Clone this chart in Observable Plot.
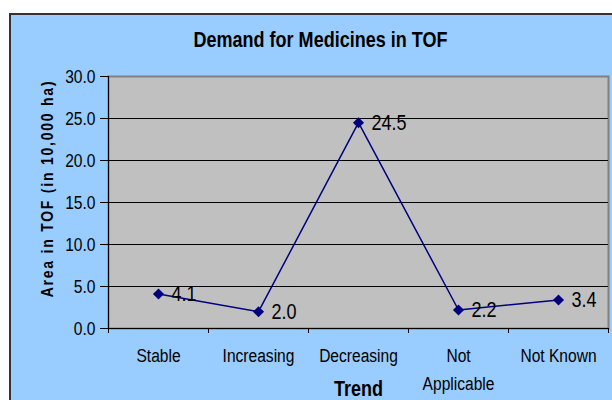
<!DOCTYPE html>
<html>
<head>
<meta charset="utf-8">
<script src="https://cdn.jsdelivr.net/npm/d3@7"></script>
<script src="https://cdn.jsdelivr.net/npm/@observablehq/plot@0.6"></script>
<style>
  html, body { margin: 0; padding: 0; background: #ffffff; }
  #wrap { position: relative; width: 612px; height: 400px; overflow: hidden; }
  #bg { position: absolute; left: 9px; top: 13px; width: 603px; height: 387px;
        background: #99CCFF; border-left: 2px solid #333; border-top: 2px solid #333; box-sizing: border-box; }
  #chart { position: absolute; left: 0; top: 0; }
  .ytitle text { letter-spacing: 2.2px; }
</style>
</head>
<body>
<div id="wrap"><div id="bg"></div><div id="chart"></div></div>
<script>
const title = "Demand for Medicines in TOF";
const yTitle = "Area in TOF (in 10,000 ha)";
const xTitle = "Trend";
const categories = ["Stable", "Increasing", "Decreasing", "Not\nApplicable", "Not Known"];
const values = [4.1, 2.0, 24.5, 2.2, 3.4];
const yTicks = [0, 5, 10, 15, 20, 25, 30];

const data = categories.map((c, i) => ({cat: c, pos: i + 0.5, value: values[i]}));
const bandEdges = d3.range(0, categories.length + 1);

const chart = Plot.plot({
  width: 612,
  height: 400,
  marginLeft: 108,
  marginRight: 4,
  marginTop: 76,
  marginBottom: 72,
  style: {background: "transparent", fontFamily: "'Liberation Sans', Arial, sans-serif", color: "black"},
  x: {domain: [0, categories.length], axis: null},
  y: {domain: [0, 30], axis: null},
  marks: [
    Plot.frame({fill: "#C0C0C0", stroke: "#808080", strokeWidth: 2}),
    Plot.ruleY(yTicks.filter(t => t > 0 && t < 30), {stroke: "black", strokeWidth: 1}),
    Plot.ruleX([0], {stroke: "black"}),
    Plot.ruleY([0], {stroke: "black"}),
    Plot.axisY({ticks: yTicks, tickSize: 8, tickPadding: 5, tickFormat: d => d.toFixed(1), fontSize: 19, label: null}),
    Plot.axisX({ticks: bandEdges, tickSize: 5, tickFormat: () => "", label: null}),
    Plot.text(data, {x: "pos", text: "cat", frameAnchor: "bottom", dy: 14, lineAnchor: "top", lineHeight: 1.47, fontSize: 19}),
    Plot.line(data, {x: "pos", y: "value", stroke: "#000080", strokeWidth: 1.5}),
    Plot.dot(data, {x: "pos", y: "value", symbol: "diamond2", r: 5, fill: "#000080", stroke: null}),
    Plot.text(data, {x: "pos", y: "value", text: d => d.value.toFixed(1), textAnchor: "start", dx: 13, fontSize: 22}),
    Plot.text([title], {text: d => d, frameAnchor: "top", lineAnchor: "middle", dx: -38, dy: -37, fontSize: 22, fontWeight: "bold"}),
    Plot.text([yTitle], {text: d => d, frameAnchor: "left", textAnchor: "middle", dx: -61, dy: -14, rotate: -90, fontSize: 17, fontWeight: "bold", className: "ytitle"}),
    Plot.text([xTitle], {text: d => d, frameAnchor: "bottom", lineAnchor: "middle", dy: 60, fontSize: 22, fontWeight: "bold"})
  ]
});
// condense glyphs horizontally (the reference uses a narrow face)
chart.querySelectorAll("text").forEach(t => {
  const tr = t.getAttribute("transform") || "";
  t.setAttribute("transform", (tr + " scale(0.82,1)").trim());
});
document.getElementById("chart").appendChild(chart);
</script>
</body>
</html>
